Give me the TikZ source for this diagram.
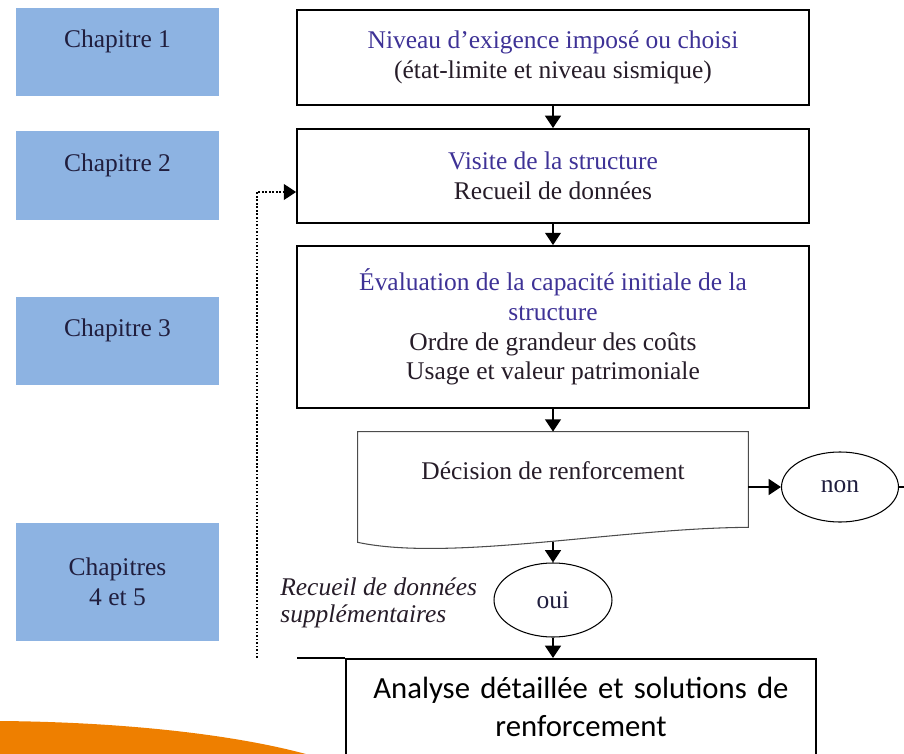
\documentclass[tikz,border=0pt]{standalone}
\usepackage{fontspec}
\setmainfont{Liberation Serif}
\newfontfamily\carlito{Carlito}
\usetikzlibrary{arrows.meta,shapes.geometric}
\definecolor{chapblue}{RGB}{141,179,226}
\definecolor{chapink}{RGB}{32,30,62}
\definecolor{headink}{RGB}{62,50,150}
\definecolor{bodyink}{RGB}{38,28,40}
\definecolor{swoosh}{RGB}{238,127,0}

\begin{document}
\begin{tikzpicture}[x=0.02cm, y=-0.02cm,
    chapter/.style={fill=chapblue, text=chapink, minimum width=4.06cm, inner sep=0pt, align=center,
                    font=\fontsize{14.5}{17}\selectfont},
    chapterline/.style={chapter, text height=0.8cm, text depth=0.98cm},
    stage/.style={draw, line width=1.1pt, minimum width=10.24cm, align=center, text=bodyink,
                  font=\fontsize{14.5}{17}\selectfont},
    answer/.style={ellipse, draw, line width=0.6pt, inner sep=0pt, text=chapink,
                   font=\fontsize{14.5}{17}\selectfont},
    flow/.style={line width=1pt, -{Triangle[length=7pt, width=9pt]}},
    backloop/.style={flow, densely dotted}]
  \useasboundingbox (0,0) rectangle (904,754);
  \clip (0,0) rectangle (904,754);

  % orange band in the lower left corner
  \fill[swoosh] (0,721) .. controls (120,722) and (240,734) .. (320,758) -- (0,758) -- cycle;

  % chapters, on the left
  \node[chapterline] (chap1) at (117.5,52)  {Chapitre 1};
  \node[chapterline] (chap2) at (117.5,175.5) {Chapitre 2};
  \node[chapterline] (chap3) at (117.5,341) {Chapitre 3};
  \node[chapter, minimum height=2.36cm] (chap45) at (117.5,582) {Chapitres\\4 et 5};

  % stages of the assessment
  \node[stage, minimum height=1.9cm] (demand) at (553,57.5)
    {\textcolor{headink}{Niveau d’exigence imposé ou choisi}\\(état-limite et niveau sismique)};
  \node[stage, minimum height=1.88cm] (visit) at (553,176)
    {\textcolor{headink}{Visite de la structure}\\Recueil de données};
  \node[stage, minimum height=3.24cm] (assess) at (553,327)
    {\textcolor{headink}{Évaluation de la capacité initiale de la}\\\textcolor{headink}{structure}\\
     Ordre de grandeur des coûts\\Usage et valeur patrimoniale};

  % decision, with its wavy lower edge
  \node[minimum width=7.8cm, inner sep=0pt, text height=0.95cm, text depth=1.25cm, text=bodyink,
        font=\fontsize{14.5}{17}\selectfont] (decide) at (553,487) {Décision de renforcement};
  \draw[line width=0.6pt, black!70] (decide.north west) -- (decide.north east) -- ([yshift=0.3cm]decide.south east)
    .. controls (620,528) and (450,562) .. (decide.south west) -- cycle;
  \node[answer, minimum width=2.34cm, minimum height=1.4cm] (reject) at (840,487) {non};
  \node[answer, minimum width=2.36cm, minimum height=1.48cm] (accept) at (553,600) {oui};
  \node[anchor=west, inner sep=0pt, align=left, text=bodyink, font=\itshape\fontsize{14.5}{15.5}\selectfont]
    (extra) at (280,603) {Recueil de données\\supplémentaires};

  % detailed analysis
  \node[draw, line width=1.1pt, anchor=north, minimum width=9.4cm, text width=9cm, inner xsep=0.2cm,
        inner ysep=0.36cm, align=center, font=\carlito\fontsize{17.5}{21.6}\selectfont] (detail) at (581,658)
    {Analyse détaillée et solutions de\\renforcement};
  \coordinate (shelf) at (297,658);
  \coordinate (loopfoot) at (257,658);
  \coordinate (offpage) at (915,487);

  \draw[flow] (demand) -- (visit);
  \draw[flow] (visit) -- (assess);
  \draw[flow] (assess) -- (decide);
  \draw[flow] (decide) -- (reject);
  \draw[flow] (decide) -- (accept);
  \draw[flow] (accept) -- (accept |- detail.north);
  \draw[line width=0.6pt] (reject) -- (offpage);
  \draw[line width=1.1pt] (shelf) -- (detail.north west);
  \draw[backloop] (loopfoot) |- ([yshift=-0.32cm]visit.west);
\end{tikzpicture}
\end{document}
